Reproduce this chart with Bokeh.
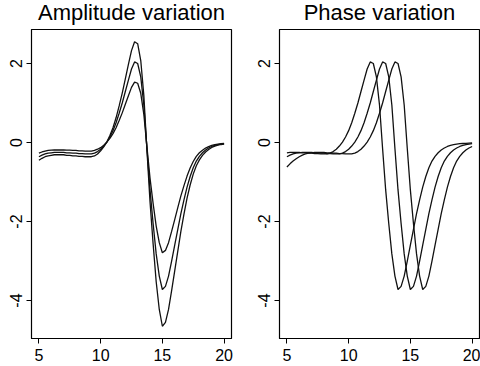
from bokeh.plotting import figure
from bokeh.layouts import row, column
from bokeh.models import FixedTicker, Range1d
from bokeh.core.properties import value
from bokeh.embed import file_html
from bokeh.resources import INLINE

# Common argument grid (t from 5 to 20)
t = [5.0, 5.25, 5.5, 5.75, 6.0, 6.25, 6.5, 6.75, 7.0, 7.25, 7.5, 7.75,
     8.0, 8.25, 8.5, 8.75, 9.0, 9.25, 9.5, 9.75, 10.0, 10.25, 10.5, 10.75,
     11.0, 11.25, 11.5, 11.75, 12.0, 12.25, 12.5, 12.75, 13.0, 13.25, 13.5, 13.75,
     14.0, 14.25, 14.5, 14.75, 15.0, 15.25, 15.5, 15.75, 16.0, 16.25, 16.5, 16.75,
     17.0, 17.25, 17.5, 17.75, 18.0, 18.25, 18.5, 18.75, 19.0, 19.25, 19.5, 19.75, 20.0]

# Amplitude variation panel
amp_small = [-0.27, -0.24, -0.22, -0.20, -0.195, -0.19, -0.19, -0.19, -0.19, -0.195, -0.195, -0.20,
             -0.20, -0.21, -0.21, -0.22, -0.22, -0.22, -0.20, -0.17, -0.13, -0.07, 0.01, 0.105,
             0.225, 0.375, 0.555, 0.75, 0.97, 1.185, 1.395, 1.53, 1.50, 1.245, 0.71, -0.11,
             -0.90, -1.54, -2.115, -2.535, -2.79, -2.73, -2.535, -2.25, -1.95, -1.65, -1.35, -1.09,
             -0.85, -0.645, -0.48, -0.35, -0.26, -0.195, -0.14, -0.105, -0.075, -0.056, -0.041, -0.03, -0.022]
amp_mid = [-0.36, -0.32, -0.29, -0.27, -0.26, -0.25, -0.25, -0.25, -0.25, -0.26, -0.26, -0.27,
           -0.27, -0.28, -0.28, -0.29, -0.29, -0.29, -0.27, -0.23, -0.17, -0.09, 0.01, 0.14,
           0.30, 0.50, 0.74, 1.00, 1.29, 1.58, 1.86, 2.04, 2.00, 1.66, 0.95, -0.15,
           -1.20, -2.05, -2.82, -3.38, -3.72, -3.64, -3.38, -3.00, -2.60, -2.20, -1.80, -1.45,
           -1.13, -0.86, -0.64, -0.47, -0.35, -0.26, -0.19, -0.14, -0.10, -0.075, -0.055, -0.04, -0.03]
amp_large = [-0.45, -0.40, -0.36, -0.34, -0.325, -0.31, -0.31, -0.31, -0.31, -0.325, -0.325, -0.34,
             -0.34, -0.35, -0.35, -0.36, -0.36, -0.36, -0.34, -0.29, -0.21, -0.11, 0.01, 0.175,
             0.375, 0.625, 0.925, 1.25, 1.61, 1.975, 2.325, 2.55, 2.50, 2.075, 1.19, -0.19,
             -1.50, -2.56, -3.525, -4.225, -4.65, -4.55, -4.225, -3.75, -3.25, -2.75, -2.25, -1.81,
             -1.41, -1.075, -0.80, -0.59, -0.44, -0.325, -0.24, -0.175, -0.125, -0.094, -0.069, -0.05, -0.038]

# Phase variation panel
ph_early = [-0.26, -0.25, -0.25, -0.25, -0.25, -0.26, -0.26, -0.27, -0.27, -0.28, -0.28, -0.29,
            -0.29, -0.29, -0.27, -0.23, -0.17, -0.09, 0.01, 0.14, 0.30, 0.50, 0.74, 1.00,
            1.29, 1.58, 1.86, 2.04, 2.00, 1.66, 0.95, -0.15, -1.20, -2.05, -2.82, -3.38,
            -3.72, -3.64, -3.38, -3.00, -2.60, -2.20, -1.80, -1.45, -1.13, -0.86, -0.64, -0.47,
            -0.35, -0.26, -0.19, -0.14, -0.10, -0.075, -0.055, -0.04, -0.03, -0.025, -0.02, -0.015, -0.01]
ph_mid = [-0.36, -0.32, -0.29, -0.27, -0.26, -0.25, -0.25, -0.25, -0.25, -0.26, -0.26, -0.27,
          -0.27, -0.28, -0.28, -0.29, -0.29, -0.29, -0.27, -0.23, -0.17, -0.09, 0.01, 0.14,
          0.30, 0.50, 0.74, 1.00, 1.29, 1.58, 1.86, 2.04, 2.00, 1.66, 0.95, -0.15,
          -1.20, -2.05, -2.82, -3.38, -3.72, -3.64, -3.38, -3.00, -2.60, -2.20, -1.80, -1.45,
          -1.13, -0.86, -0.64, -0.47, -0.35, -0.26, -0.19, -0.14, -0.10, -0.075, -0.055, -0.04, -0.03]
ph_late = [-0.62, -0.54, -0.47, -0.41, -0.36, -0.32, -0.29, -0.27, -0.26, -0.25, -0.25, -0.25,
           -0.25, -0.26, -0.26, -0.27, -0.27, -0.28, -0.28, -0.29, -0.29, -0.29, -0.27, -0.23,
           -0.17, -0.09, 0.01, 0.14, 0.30, 0.50, 0.74, 1.00, 1.29, 1.58, 1.86, 2.04,
           2.00, 1.66, 0.95, -0.15, -1.20, -2.05, -2.82, -3.38, -3.72, -3.64, -3.38, -3.00,
           -2.60, -2.20, -1.80, -1.45, -1.13, -0.86, -0.64, -0.47, -0.35, -0.26, -0.19, -0.14, -0.10]

x_ticks = [5, 10, 15, 20]
y_ticks = [-4, -2, 0, 2]
y_tick_labels = {-4: "-4", -2: "-2", 0: "0", 2: "2"}
titles = ["Amplitude variation", "Phase variation"]

FONT = "Liberation Sans"


def make_title(text, left_border):
    # A thin strip holding the panel title, centred over the plotting box below it
    tf = figure(width=240, height=28, output_backend="svg", toolbar_location=None,
                x_range=Range1d(0, 240), y_range=Range1d(0, 28),
                min_border=0, x_axis_location=None, y_axis_location=None)
    tf.xgrid.visible = False
    tf.ygrid.visible = False
    tf.outline_line_color = None
    tf.background_fill_color = "white"
    tf.border_fill_color = "white"
    tf.text(x=[left_border + 100], y=[16], text=[text], text_font=value(FONT),
            text_font_size="22px", text_color="black", text_align="center",
            text_baseline="alphabetic")
    return tf


def make_panel(series, left_border, right_border):
    p = figure(width=240, height=338, output_backend="svg", toolbar_location=None,
               x_range=Range1d(4.4, 20.6), y_range=Range1d(-4.96, 2.86),
               min_border_left=left_border, min_border_right=right_border,
               min_border_top=1, min_border_bottom=28)
    p.xgrid.visible = False
    p.ygrid.visible = False
    p.outline_line_color = "black"
    p.outline_line_width = 1.2
    p.background_fill_color = "white"
    p.border_fill_color = "white"
    for ax, ticks in ((p.xaxis[0], x_ticks), (p.yaxis[0], y_ticks)):
        ax.ticker = FixedTicker(ticks=ticks)
        ax.minor_tick_line_color = None
        ax.major_tick_in = 0
        ax.major_tick_out = 5
        ax.major_tick_line_color = "black"
        ax.axis_line_color = "black"
        ax.major_label_text_font = FONT
        ax.major_label_text_font_size = "16px"
        ax.major_label_text_color = "black"
    p.xaxis.major_label_standoff = 5
    p.yaxis.major_label_standoff = 4
    p.yaxis.major_label_orientation = "vertical"
    p.yaxis.major_label_overrides = y_tick_labels
    for ys in series:
        p.line(t, ys, line_color="#111111", line_width=1.3)
    return p


t1 = make_title(titles[0], 31)
t2 = make_title(titles[1], 39)
p1 = make_panel([amp_small, amp_mid, amp_large], 31, 9)
p2 = make_panel([ph_early, ph_mid, ph_late], 39, 1)

layout = column(row(t1, t2), row(p1, p2))
open("out.html", "w").write(file_html(layout, INLINE))
